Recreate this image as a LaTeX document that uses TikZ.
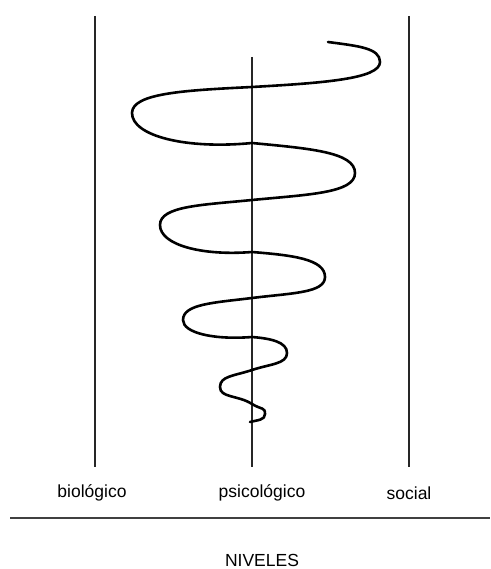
\documentclass[tikz,border=0pt]{standalone}
\usepackage{fontspec}
\setmainfont{Liberation Sans}
\usepackage{tikz}

\begin{document}
\begin{tikzpicture}[x=1pt,y=1pt,
    nivel/.style={line width=1.6pt,black!85},
    etiqueta/.style={font=\fontsize{17.5}{20}\selectfont,inner sep=0pt}]
  \useasboundingbox (0,0) rectangle (490,-569);
  % the three levels
  \coordinate (bioTop) at (95,-16);   \coordinate (bioBot) at (95,-467);
  \coordinate (psiTop) at (252,-57);  \coordinate (psiBot) at (252,-467);
  \coordinate (socTop) at (409,-16);  \coordinate (socBot) at (409,-467);
  \draw[nivel] (bioTop)--(bioBot);
  \draw[nivel] (psiTop)--(psiBot);
  \draw[nivel] (socTop)--(socBot);
  \node[etiqueta] (bio) at (92,-493) {biológico};
  \node[etiqueta] (psi) at (262,-493) {psicológico};
  \node[etiqueta] (soc) at (409,-493) {social};
  % spiral
  \draw[line width=2.6pt,line cap=round] (328,-42)
    .. controls +(30,-4) and +(0,14) .. (380,-62)
    .. controls +(0,-17) and +(70,4) .. (252,-87)
    .. controls +(-66,-3.3) and +(0,20) .. (132,-113)
    .. controls +(0,-23) and +(-66,-6.5) .. (252,-143)
    .. controls +(57,-5.5) and +(0,21) .. (355,-173)
    .. controls +(0,-20) and +(57,5.5) .. (252,-200)
    .. controls +(-50,-5) and +(0,19) .. (160,-225)
    .. controls +(0,-20) and +(-50,-4) .. (252,-252)
    .. controls +(40,-3.2) and +(0,18) .. (325,-277)
    .. controls +(0,-16) and +(40,5) .. (252,-298)
    .. controls +(-38,-4.7) and +(0,16) .. (183,-320)
    .. controls +(0,-13) and +(-38,-3) .. (252,-337)
    .. controls +(19,-1.5) and +(0,11) .. (287,-353)
    .. controls +(0,-11) and +(18,6) .. (252,-370)
    .. controls +(-18,-6) and +(0,11) .. (220,-387)
    .. controls +(0,-11) and +(-14,9) .. (252,-404)
    .. controls +(10,-6) and +(0,7) .. (265,-414)
    .. controls +(0,-6) and +(8,2) .. (250,-422);
  % base line
  \coordinate (baseL) at (10,-518); \coordinate (baseR) at (490,-518);
  \draw[line width=2.2pt,black!75] (baseL)--(baseR);
  \node[etiqueta] (niveles) at (262,-560) {NIVELES};
\end{tikzpicture}
\end{document}
